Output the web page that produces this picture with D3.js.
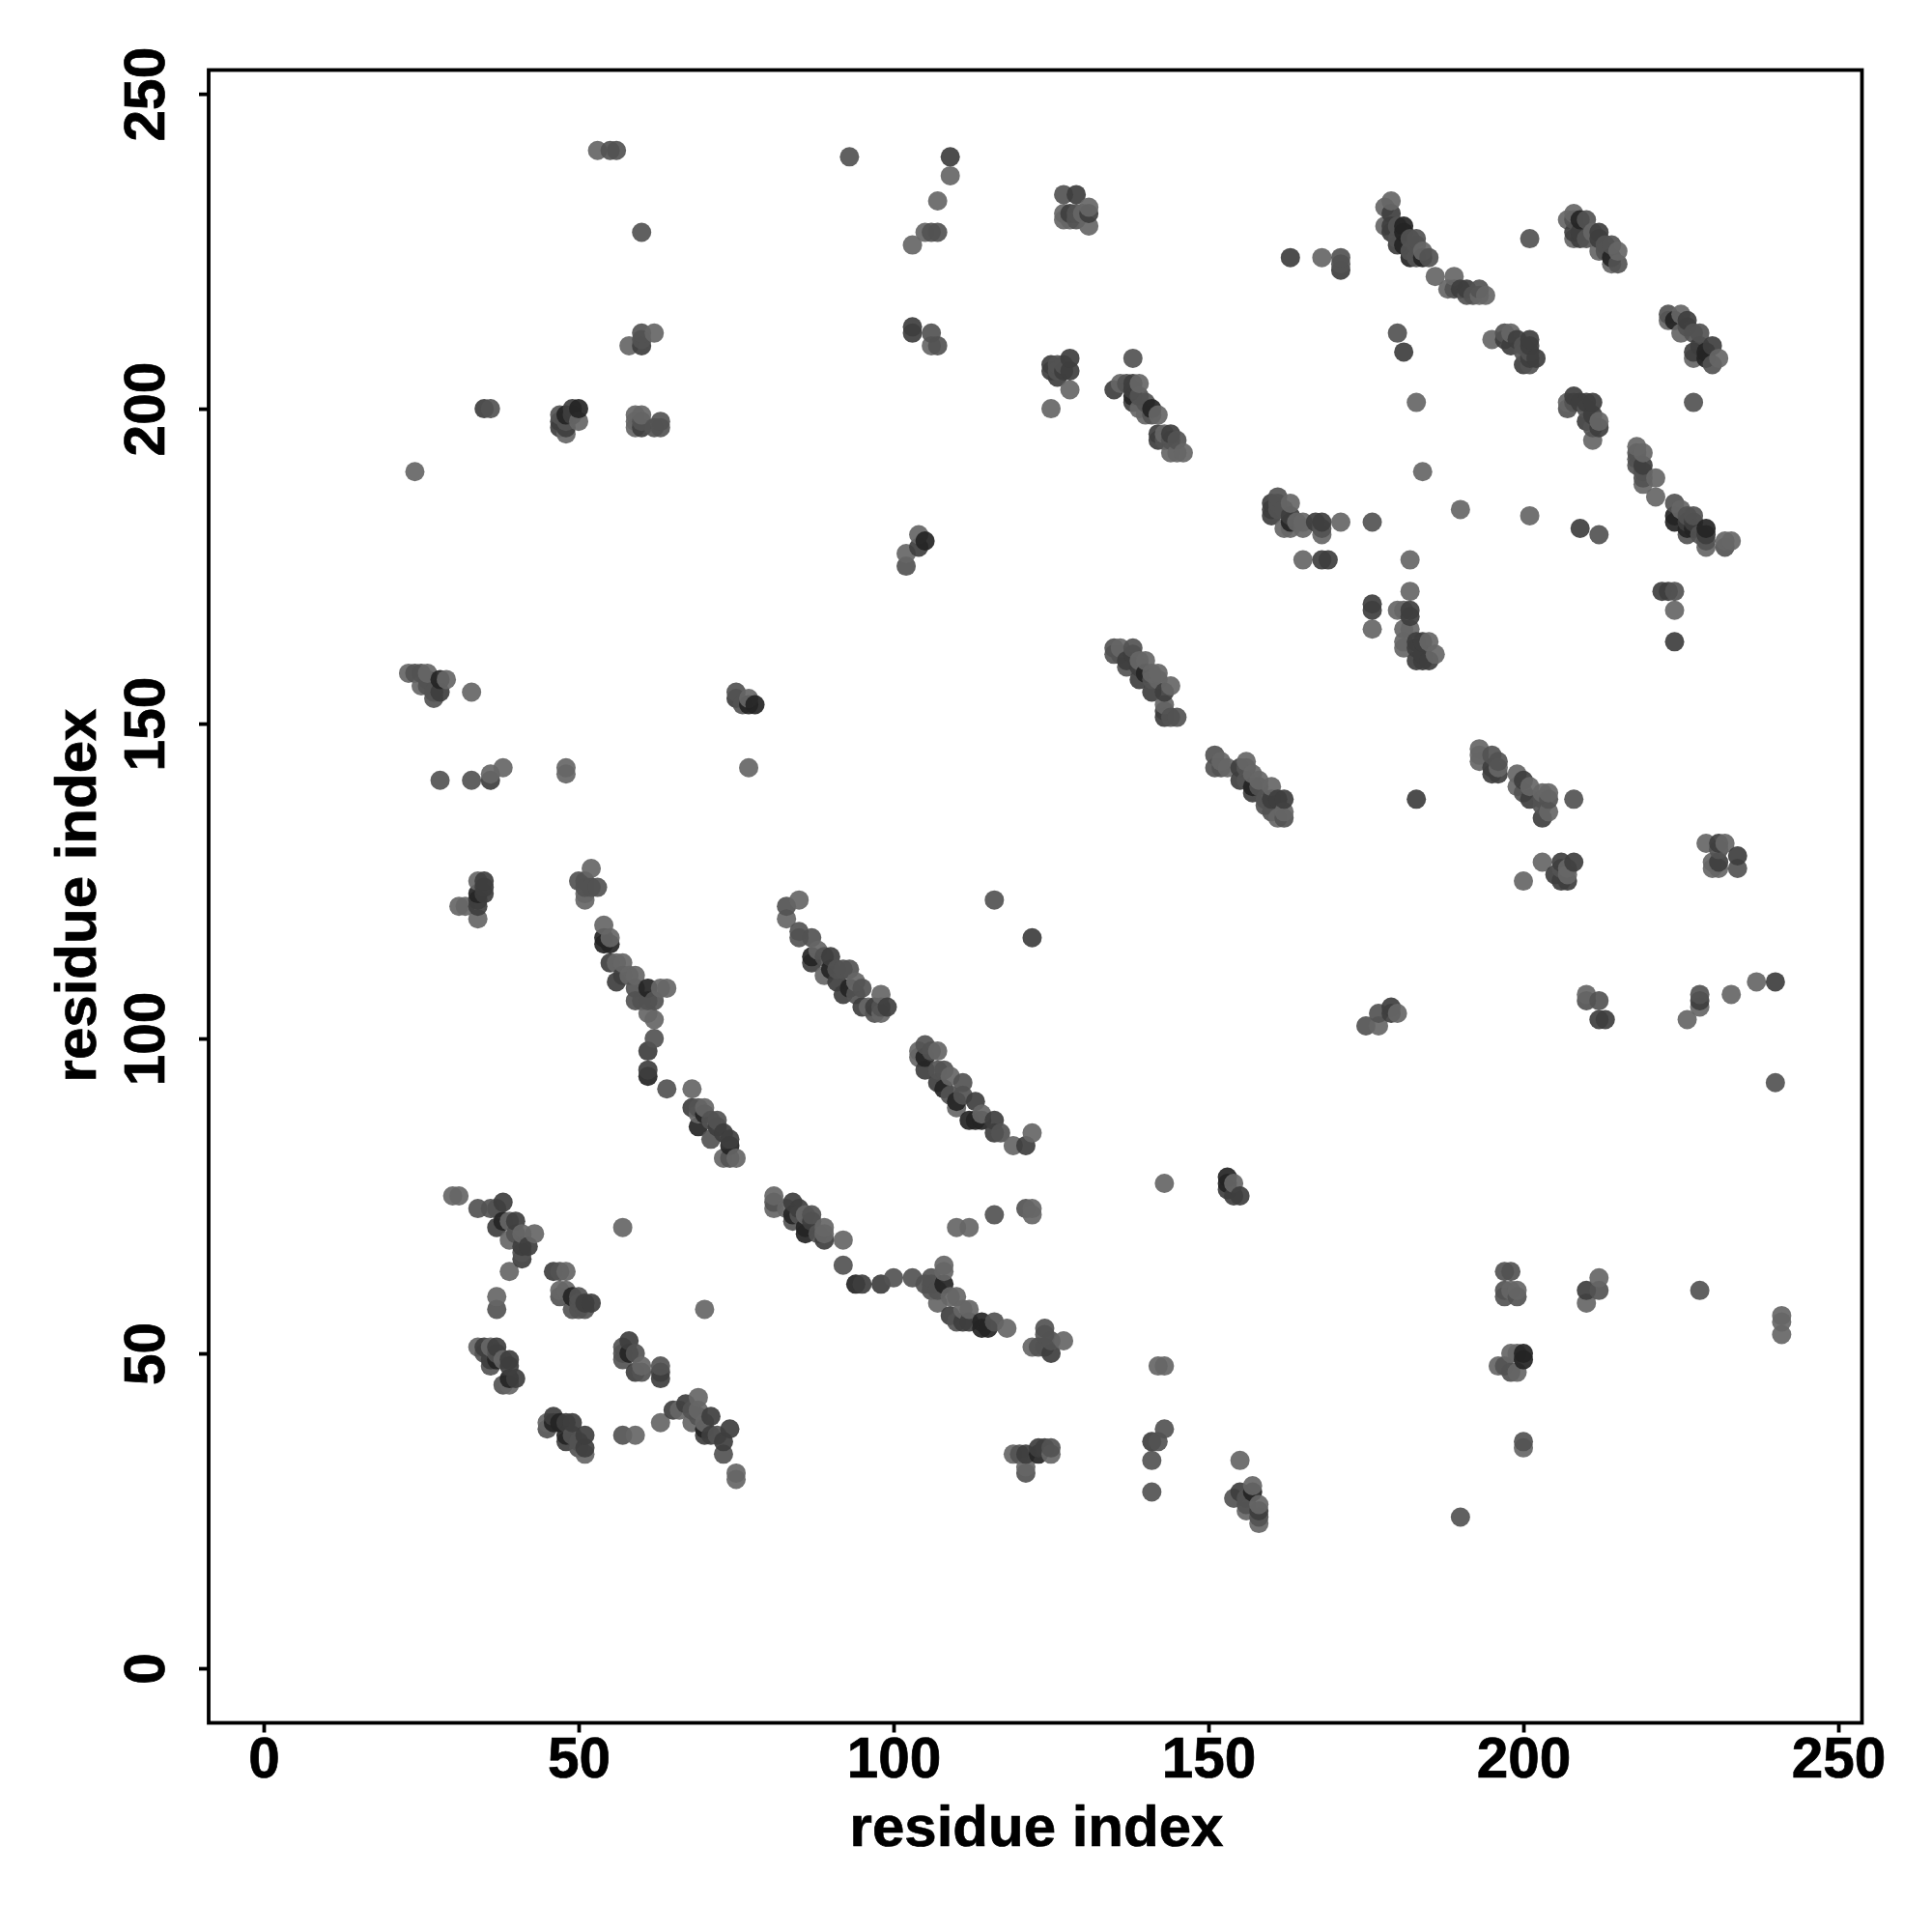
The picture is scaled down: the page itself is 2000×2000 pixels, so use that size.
<!DOCTYPE html>
<html><head><meta charset="utf-8">
<script src="https://cdn.jsdelivr.net/npm/d3@7/dist/d3.min.js"></script>
<style>html,body{margin:0;background:#fff}svg{display:block}</style></head>
<body><svg id="c" width="2000" height="2000"></svg>
<script>
const xTicks=[0,50,100,150,200,250];
const yTicks=[0,50,100,150,200,250];
const xTitle="residue index", yTitle="residue index";
const lightContacts=[[53,241],[109,237],[107,233],[105,228],[103,226],[62,212],[58,210],[106,210],[24,190],[48,196],[50,198],[59,199],[60,199],[59,197],[59,198],[104,180],[102,177],[127,231],[130,231],[131,232],[131,229],[127,230],[128,230],[128,203],[125,200],[136,204],[139,204],[139,200],[140,199],[142,199],[143,196],[144,193],[146,193],[145,193],[163,185],[162,181],[163,181],[164,182],[165,182],[165,181],[168,180],[171,182],[165,176],[182,176],[182,171],[168,224],[178,232],[179,233],[183,201],[184,190],[178,229],[184,225],[186,221],[189,221],[188,219],[193,218],[194,218],[208,227],[207,230],[208,231],[211,228],[212,225],[214,223],[215,225],[223,214],[225,215],[225,212],[227,208],[231,208],[195,211],[198,212],[207,201],[212,198],[211,195],[218,194],[219,193],[219,188],[221,189],[221,186],[225,184],[229,178],[232,179],[233,179],[190,184],[201,183],[176,165],[180,168],[181,168],[181,165],[182,165],[181,163],[181,162],[185,163],[186,161],[224,168],
[23,158],[26,158],[25,156],[29,157],[33,155],[77,154],[36,142],[38,143],[48,143],[48,142],[77,143],[34,125],[31,121],[32,121],[34,119],[52,127],[51,122],[51,123],[54,118],[55,116],[56,112],[57,112],[58,110],[59,110],[63,108],[64,108],[61,104],[62,103],[68,92],[70,89],[69,88],[73,81],[75,81],[85,122],[83,119],[88,114],[89,110],[94,109],[98,107],[96,105],[98,104],[104,98],[107,98],[104,97],[109,94],[110,89],[114,88],[119,83],[122,85],[81,75],[81,73],[83,73],[86,72],[89,70],[89,69],[92,68],[108,64],[108,63],[107,58],[109,59],[110,59],[111,57],[112,57],[118,54],[110,70],[112,70],[122,73],[122,72],[122,51],[127,52],[143,77],[154,77],[142,48],[143,48],
[30,75],[31,75],[39,71],[39,68],[41,69],[43,69],[39,63],[37,59],[48,63],[47,60],[48,60],[57,70],[70,57],[34,51],[36,51],[38,49],[39,45],[60,48],[45,39],[51,34],[59,37],[63,39],[66,41],[69,43],[69,41],[68,39],[70,39],[75,31],[75,30],[119,34],[125,34],[121,32],[155,33],[157,29],[156,25],[158,26],[158,23],[198,60],[199,60],[199,50],[198,50],[196,48],[199,47],[200,35],[212,62],[210,58],[241,56],[241,55],[241,53],[193,146],[193,145],[193,144],[196,143],[199,142],[199,140],[201,140],[203,139],[204,139],[204,136],[200,125],[203,128],[207,127],[207,126],[229,131],[232,131],[230,128],[230,127],[231,127],[177,102],[180,104],[210,107],[226,103],[233,107],[237,109],[228,105],[161,135],[162,136],[160,140],
[136,162],[140,160],[139,160],[141,158],[142,158],[142,157],[144,156],[143,153],[152,144],[153,143],[156,144],[157,142],[158,141]];
const midContacts=[[55,241],[56,241],[93,240],[106,228],[107,228],[60,228],[60,212],[60,211],[106,212],[107,210],[36,200],[47,199],[48,198],[62,197],[63,198],[63,197],[60,198],[102,175],[127,234],[129,231],[129,230],[126,206],[126,207],[127,207],[138,208],[137,204],[139,202],[140,201],[141,199],[143,195],[144,195],[145,195],[161,186],[161,185],[161,184],[162,184],[168,181],[176,182],[171,224],[171,223],[180,212],[180,229],[180,227],[182,227],[183,227],[183,226],[182,225],[183,224],[185,224],[189,219],[191,218],[192,218],[193,219],[201,227],[208,230],[210,230],[210,227],[213,226],[214,226],[213,225],[215,223],[223,215],[226,213],[227,212],[228,212],[230,207],[227,201],[197,212],[200,210],[200,209],[201,209],[201,207],[207,200],[208,201],[210,200],[211,197],[218,193],[218,192],[218,191],[219,190],[219,189],[224,185],[226,183],[227,183],[226,180],[229,179],[228,180],[232,178],[212,180],[224,171],
[24,158],[25,158],[26,156],[26,157],[27,154],[27,155],[75,155],[76,153],[28,141],[33,141],[50,125],[51,125],[51,124],[52,124],[53,124],[59,108],[59,106],[60,106],[61,106],[62,106],[62,100],[64,92],[69,89],[71,87],[72,87],[71,84],[74,81],[83,121],[85,117],[85,116],[87,116],[89,113],[91,111],[92,111],[93,111],[95,108],[94,107],[97,104],[98,105],[105,99],[106,98],[107,95],[108,95],[111,93],[109,91],[111,91],[117,85],[116,122],[81,74],[84,71],[85,72],[87,72],[88,69],[92,64],[100,62],[103,62],[105,61],[106,62],[106,61],[106,60],[107,60],[110,55],[116,55],[116,72],[121,73],[124,54],[124,53],[123,51],[124,51],[125,52],
[34,73],[36,73],[37,73],[40,69],[41,66],[37,57],[47,63],[47,59],[50,59],[49,57],[50,57],[51,57],[50,58],[35,50],[37,50],[36,48],[38,45],[57,51],[57,50],[57,49],[59,50],[60,47],[63,48],[49,37],[50,36],[50,35],[45,38],[57,37],[68,41],[69,40],[72,37],[73,34],[120,34],[125,35],[121,31],[142,36],[141,33],[141,28],[143,38],[154,27],[156,26],[156,27],[158,24],[190,24],[197,60],[197,59],[198,63],[197,63],[199,59],[197,48],[198,47],[200,36],[212,60],[228,60],[195,145],[196,144],[200,139],[203,138],[204,138],[203,137],[208,138],[206,127],[234,127],[175,102],[177,104],[210,106],[212,106],[228,107],[240,93],[162,135],[160,136],[231,130],
[135,162],[135,161],[136,161],[138,162],[137,159],[141,157],[144,151],[145,151],[151,145],[151,143],[152,143],[156,143],[158,140],[159,137],[159,138],[156,141]];
const darkContacts=[[109,240],[60,210],[103,213],[103,212],[35,200],[47,198],[47,197],[48,197],[49,199],[49,200],[60,197],[104,178],[129,234],[128,231],[131,231],[128,208],[128,206],[125,207],[125,206],[126,205],[127,206],[135,203],[138,204],[138,203],[138,201],[142,196],[142,195],[144,196],[160,185],[160,184],[160,183],[163,183],[167,182],[168,182],[168,176],[169,176],[176,169],[176,168],[163,224],[171,222],[179,231],[179,229],[179,228],[180,226],[181,209],[190,219],[191,219],[208,228],[209,228],[209,227],[212,228],[212,227],[197,211],[198,210],[199,211],[201,211],[201,210],[201,208],[202,208],[200,207],[208,202],[209,201],[210,201],[211,201],[210,198],[211,199],[212,197],[219,191],[226,182],[227,182],[229,180],[209,181],[222,171],[223,171],[224,163],[182,168],[182,167],[183,163],[184,163],[183,162],[183,160],[184,160],[185,160],[184,161],[230,210],[227,209],[228,210],[226,214],
[75,154],[28,155],[36,141],[35,125],[35,124],[35,123],[34,122],[34,121],[55,112],[56,109],[57,110],[61,98],[61,95],[68,89],[72,86],[73,85],[74,84],[87,112],[90,113],[91,109],[92,107],[95,105],[97,105],[99,105],[105,95],[107,93],[113,90],[116,87],[116,85],[121,83],[122,116],[84,74],[85,73],[87,71],[89,68],[95,61],[98,61],[109,56],[111,55],[112,55],[125,50],[153,76],[154,75],[155,75],
[38,74],[37,70],[40,71],[42,67],[41,67],[41,65],[46,63],[52,58],[51,58],[35,51],[37,51],[36,49],[39,49],[39,48],[40,46],[58,52],[59,47],[63,47],[63,46],[46,40],[48,39],[49,39],[48,36],[51,37],[51,35],[65,41],[67,42],[71,40],[70,37],[71,37],[74,38],[73,36],[121,34],[123,35],[124,35],[141,36],[155,28],[158,25],[210,60],[200,141],[195,142],[196,142],[195,143],[201,138],[203,135],[183,138],[206,128],[208,128],[205,126],[206,125],[207,125],[231,128],[231,131],[234,129],[179,105],[179,104],[212,103],[213,103],[228,106],[240,109],[161,138],[162,138],
[137,160],[138,161],[139,159],[139,157],[141,155],[143,155],[143,152],[143,151],[155,143],[155,141],[157,139],[160,138]];
const blackContacts=[[50,200],[48,199],[105,179],[181,229],[181,228],[181,226],[182,224],[184,224],[209,230],[214,224],[224,214],[229,209],[229,208],[224,183],[224,182],[229,181],[226,181],[227,181],[28,157],[78,153],[77,153],[34,123],[54,116],[54,115],[55,115],[61,108],[61,94],[69,86],[70,88],[74,83],[87,113],[90,111],[93,108],[105,97],[108,92],[110,90],[112,87],[113,87],[114,87],[153,78],[153,77],[84,72],[86,69],[86,70],[94,61],[108,61],[114,55],[115,54],[114,54],[38,71],[49,59],[37,49],[39,46],[58,50],[46,39],[47,39],[48,37],[70,38],[123,34],[157,28],[200,50],[200,49],[140,158],[157,140],[163,182],[141,200],[138,202]];
const shades=[
 {pts:lightContacts,fill:"#666666"},
 {pts:midContacts,fill:"#535353"},
 {pts:darkContacts,fill:"#3e3e3e"},
 {pts:blackContacts,fill:"#242424"}];

const svg=d3.select("#c");
const x=d3.scaleLinear().domain([-8.74,253.75]).range([216,1927.5]);
const y=d3.scaleLinear().domain([-8.74,253.7]).range([1784,73]);
const all=shades.flatMap(s=>s.pts.map(p=>({x:p[0],y:p[1],fill:s.fill})));
all.sort((a,b)=>d3.ascending(a.x,b.x)||d3.ascending(a.y,b.y));
svg.append("g").selectAll("circle").data(all).join("circle")
 .attr("cx",d=>x(d.x)).attr("cy",d=>y(d.y)).attr("r",10)
 .attr("fill",d=>d.fill).attr("fill-opacity",0.92);
svg.append("rect").attr("x",x.range()[0]).attr("y",72.5)
 .attr("width",x.range()[1]-x.range()[0]).attr("height",1711)
 .attr("fill","none").attr("stroke","#000").attr("stroke-width",3.8);
const font="'Liberation Sans',Arial,sans-serif";
const gx=svg.append("g").attr("transform","translate(0,1783.5)")
 .call(d3.axisBottom(x).tickValues(xTicks).tickSize(10).tickPadding(12).tickFormat(d3.format("d")));
const gy=svg.append("g").attr("transform",`translate(${x.range()[0]},0)`)
 .call(d3.axisLeft(y).tickValues(yTicks).tickSize(10).tickPadding(0).tickFormat(d3.format("d")));
[gx,gy].forEach(g=>{g.select(".domain").remove();
 g.selectAll("line").attr("stroke","#000").attr("stroke-width",3.8);
 g.selectAll("text").attr("fill","#000").attr("stroke","#000").attr("stroke-width",0.7).style("font",`bold 58.5px ${font}`);});
gx.selectAll("text").attr("dy",null).attr("y",56);
gy.selectAll("text").attr("x",null).attr("dy",null).attr("text-anchor","middle")
 .attr("transform","translate(-46,0) rotate(-90)");
svg.append("text").attr("x",1073).attr("y",1911).attr("text-anchor","middle")
 .attr("stroke","#000").attr("stroke-width",0.7)
 .style("font",`bold 60px ${font}`).text(xTitle);
svg.append("text").attr("transform","translate(99,927) rotate(-90)").attr("text-anchor","middle")
 .attr("stroke","#000").attr("stroke-width",0.7)
 .style("font",`bold 60px ${font}`).text(yTitle);
</script></body></html>
